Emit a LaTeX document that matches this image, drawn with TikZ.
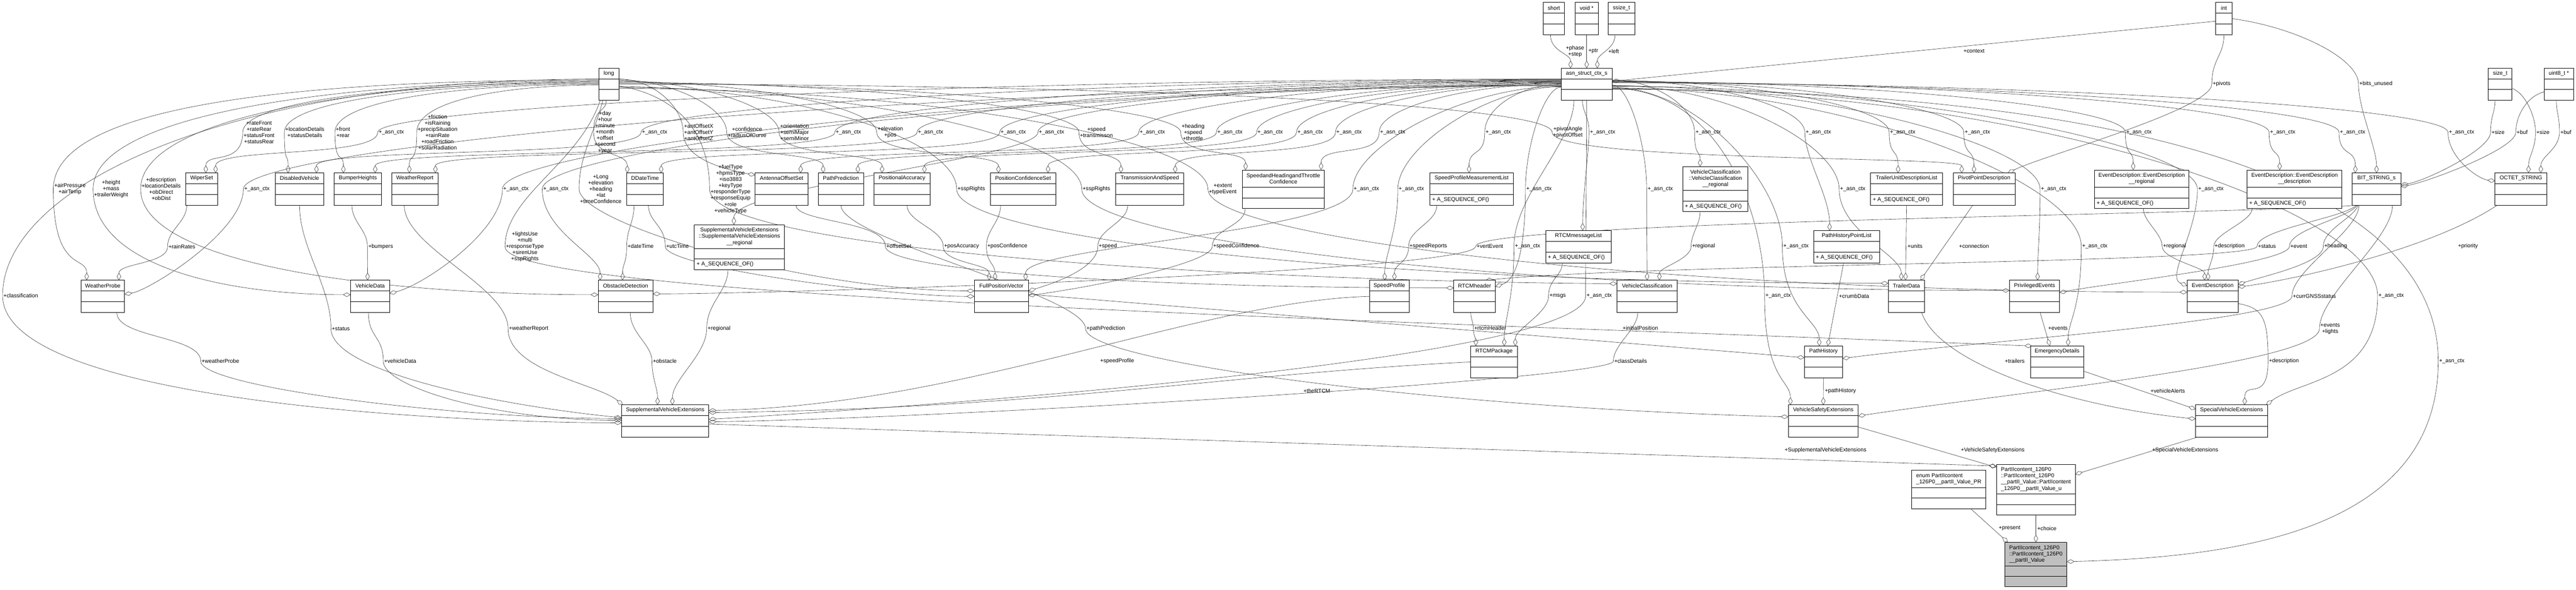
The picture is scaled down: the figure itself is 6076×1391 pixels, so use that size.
\documentclass[tikz,border=0pt]{standalone}
\usepackage{fontspec}
\setmainfont{Liberation Sans}
\usetikzlibrary{arrows.meta,calc}
\pgfdeclarelayer{back}
\pgfdeclarelayer{edges}
\pgfsetlayers{back,edges,main}
\newcommand\actx{+\_asn\_ctx}
\newcommand\umlbox[9][align=center]{%
  \node[ubase,minimum width={(#5-#3)*1pt},minimum height={(#6-#4)*1pt}] (#2) at ({(#3+#5)/2},{(#4+#6)/2}) {};
  \draw[divline] (#3,{#4+#7}) -- (#5,{#4+#7});
  \draw[divline] (#3,{#6-25}) -- (#5,{#6-25});
  \node[ttl,#1] at ({(#3+#5)/2},{#4+#7/2}) {#8};
  \node[ttl,anchor=west] at ({#3+5},{#6-12.5}) {#9};}
\newcommand\elab[3]{\node[lb] (#1) at (#2) {#3};}
\newcommand\viaedge[6]{\draw[conn] (#1) .. controls +(#2) and +(0,-#4) .. (#3.west) .. controls +(0,#4) and +(#5) .. (#6);}
\begin{document}
\begin{tikzpicture}[x=1pt,y=-1pt,
  ubase/.style={draw=black,line width=1.1pt,fill=white,inner sep=0pt,outer sep=0pt,rectangle},
  divline/.style={line width=1.1pt},
  ttl/.style={font=\fontsize{13}{14.7}\selectfont,inner sep=0pt},
  lb/.style={font=\fontsize{13}{14.7}\selectfont,align=center,inner sep=2pt},
  conn/.style={draw=black!78,line width=0.75pt,-{Diamond[open,length=18pt,width=10pt]}}]
\begin{pgfonlayer}{back}
\fill[white] (0,0) rectangle (6076,1391);
\end{pgfonlayer}
\useasboundingbox (0,0) rectangle (6076,1391);
% ---------------- boxes
\umlbox{nshort}{3640}{6}{3690}{82}{25}{short}{}
\umlbox{voidp}{3715}{6}{3770}{82}{25}{void *}{}
\umlbox{ssize}{3793}{6}{3856}{82}{25}{ssize\_t}{}
\umlbox{nint}{5226}{6}{5265}{82}{25}{int}{}
\umlbox{nlong}{1412}{161}{1460}{236}{25}{long}{}
\umlbox{asn}{3682}{161}{3803}{236}{25}{asn\_struct\_ctx\_s}{}
\umlbox{sizet}{5869}{161}{5925}{236}{25}{size\_t}{}
\umlbox{uint8}{6001}{161}{6070}{236}{25}{uint8\_t *}{}
\umlbox{wiper}{438}{408}{513}{484}{25}{WiperSet}{}
\umlbox{disabled}{649}{408}{764}{484}{25}{DisabledVehicle}{}
\umlbox{bumper}{788}{408}{900}{484}{25}{BumperHeights}{}
\umlbox{weatherrep}{924}{408}{1033}{484}{25}{WeatherReport}{}
\umlbox{ddate}{1478}{408}{1565}{484}{25}{DDateTime}{}
\umlbox{antenna}{1781}{408}{1906}{484}{25}{AntennaOffsetSet}{}
\umlbox{pathpred}{1930}{408}{2037}{484}{25}{PathPrediction}{}
\umlbox{posacc}{2061}{408}{2194}{484}{25}{PositionalAccuracy}{}
\umlbox{posconf}{2336}{408}{2490}{484}{25}{PositionConfidenceSet}{}
\umlbox{transspeed}{2632}{408}{2792}{484}{25}{TransmissionAndSpeed}{}
\umlbox{shtc}{2930}{401}{3124}{492}{41}{SpeedandHeadingandThrottle\\Confidence}{}
\umlbox{spml}{3373}{408}{3569}{484}{25}{SpeedProfileMeasurementList}{+ A\_SEQUENCE\_OF()}
\umlbox{vcreg}{3969}{393}{4123}{499}{56}{VehicleClassification\\::VehicleClassification\\\_\_regional}{+ A\_SEQUENCE\_OF()}
\umlbox{tudl}{4412}{408}{4582}{484}{25}{TrailerUnitDescriptionList}{+ A\_SEQUENCE\_OF()}
\umlbox{pivot}{4607}{408}{4753}{484}{25}{PivotPointDescription}{}
\umlbox{edreg}{4940}{401}{5163}{492}{41}{EventDescription::EventDescription\\\_\_regional}{+ A\_SEQUENCE\_OF()}
\umlbox{eddesc}{5300}{401}{5524}{492}{41}{EventDescription::EventDescription\\\_\_description}{+ A\_SEQUENCE\_OF()}
\umlbox{bitstr}{5548}{408}{5663}{484}{25}{BIT\_STRING\_s}{}
\umlbox{octet}{5885}{408}{6007}{484}{25}{OCTET\_STRING}{}
\umlbox{svereg}{1638}{530}{1850}{636}{56}{SupplementalVehicleExtensions\\::SupplementalVehicleExtensions\\\_\_regional}{+ A\_SEQUENCE\_OF()}
\umlbox{rtcmml}{3646}{544}{3800}{620}{25}{RTCMmessageList}{+ A\_SEQUENCE\_OF()}
\umlbox{phpl}{4278}{544}{4433}{620}{25}{PathHistoryPointList}{+ A\_SEQUENCE\_OF()}
\umlbox{wprobe}{191}{661}{294}{737}{25}{WeatherProbe}{}
\umlbox{vdata}{827}{661}{919}{737}{25}{VehicleData}{}
\umlbox{obst}{1411}{661}{1540}{737}{25}{ObstacleDetection}{}
\umlbox{fpv}{2298}{661}{2426}{737}{25}{FullPositionVector}{}
\umlbox{sprof}{3230}{661}{3324}{737}{25}{SpeedProfile}{}
\umlbox{rtcmh}{3429}{661}{3527}{737}{25}{RTCMheader}{}
\umlbox{vclass}{3814}{661}{3956}{737}{25}{VehicleClassification}{}
\umlbox{trailer}{4454}{661}{4539}{737}{25}{TrailerData}{}
\umlbox{priv}{4740}{661}{4858}{737}{25}{PrivilegedEvents}{}
\umlbox{evdesc}{5159}{661}{5279}{737}{25}{EventDescription}{}
\umlbox{rtcmp}{3469}{816}{3579}{891}{25}{RTCMPackage}{}
\umlbox{phist}{4256}{816}{4346}{891}{25}{PathHistory}{}
\umlbox{emerg}{4789}{816}{4915}{891}{25}{EmergencyDetails}{}
\umlbox{sve}{1466}{955}{1672}{1031}{25}{SupplementalVehicleExtensions}{}
\umlbox{vse}{4218}{955}{4383}{1031}{25}{VehicleSafetyExtensions}{}
\umlbox{spve}{5179}{955}{5348}{1031}{25}{SpecialVehicleExtensions}{}
\umlbox[align=left]{enumpr}{4509}{1109}{4684}{1200}{41}{enum PartIIcontent\\\_126P0\_\_partII\_Value\_PR}{}
\umlbox[align=left]{valu}{4709}{1096}{4895}{1215}{69}{PartIIcontent\_126P0\\::PartIIcontent\_126P0\\\_\_partII\_Value::PartIIcontent\\\_126P0\_\_partII\_Value\_u}{}
\begin{scope}[ubase/.append style={fill=black!25}]
\umlbox[align=left]{nmain}{4729}{1279}{4875}{1384}{56}{PartIIcontent\_126P0\\::PartIIcontent\_126P0\\\_\_partII\_Value}{}
\end{scope}
% ---------------- labels
\elab{lPhase}{3715,121}{+phase\\+step}
\elab{lPtr}{3758,121}{+ptr}
\elab{lLeft}{3806,121}{+left}
\elab{lContext}{4656,121}{+context}
\elab{lPivots}{5240,198}{+pivots}
\elab{lBits}{5604,198}{+bits\_unused}
\elab{a923}{923,312}{\actx}
\elab{a1544}{1544,312}{\actx}
\elab{a2001}{2001,312}{\actx}
\elab{a2195}{2195,312}{\actx}
\elab{a2390}{2390,312}{\actx}
\elab{a2480}{2480,312}{\actx}
\elab{a2718}{2718,312}{\actx}
\elab{a2901}{2901,312}{\actx}
\elab{a2996}{2996,312}{\actx}
\elab{a3090}{3090,312}{\actx}
\elab{a3182}{3182,312}{\actx}
\elab{a3285}{3285,312}{\actx}
\elab{a3534}{3534,312}{\actx}
\elab{a3780}{3780,312}{\actx}
\elab{a4029}{4029,312}{\actx}
\elab{a4289}{4289,312}{\actx}
\elab{a4488}{4488,312}{\actx}
\elab{a4664}{4664,312}{\actx}
\elab{a5045}{5045,312}{\actx}
\elab{a5384}{5384,312}{\actx}
\elab{a5549}{5549,312}{\actx}
\elab{a5806}{5806,312}{\actx}
\elab{lRate}{611,312}{+rateFront\\+rateRear\\+statusFront\\+statusRear}
\elab{lLocDet}{719,312}{+locationDetails\\+statusDetails}
\elab{lFront}{809,312}{+front\\+rear}
\elab{lFric}{1032,312}{+friction\\+isRaining\\+precipSituation\\+rainRate\\+roadFriction\\+solarRadiation}
\elab{lDay}{1427,312}{+day\\+hour\\+minute\\+month\\+offset\\+second\\+year}
\elab{lAnt}{1648,312}{+antOffsetX\\+antOffsetY\\+antOffsetZ}
\elab{lConf}{1762,312}{+confidence\\+radiusOfCurve}
\elab{lOrient}{1874,312}{+orientation\\+semiMajor\\+semiMinor}
\elab{lElevPos}{2100,312}{+elevation\\+pos}
\elab{lSpTr}{2586,312}{+speed\\+transmisson}
\elab{lHST}{2814,312}{+heading\\+speed\\+throttle}
\elab{lPivAng}{3698,312}{+pivotAngle\\+pivotOffset}
\elab{lSize1}{5892,312}{+size}
\elab{lBuf1}{5949,312}{+buf}
\elab{lSize2}{5998,312}{+size}
\elab{lBuf2}{6052,312}{+buf}
\elab{b606}{606,446}{\actx}
\elab{b1217}{1217,446}{\actx}
\elab{b1311}{1311,446}{\actx}
\elab{b3223}{3223,446}{\actx}
\elab{b3329}{3329,446}{\actx}
\elab{b3630}{3630,446}{\actx}
\elab{b3916}{3916,446}{\actx}
\elab{b4370}{4370,446}{\actx}
\elab{b4844}{4844,446}{\actx}
\elab{b5215}{5215,446}{\actx}
\elab{lAir}{165,446}{+airPressure\\+airTemp}
\elab{lHeight}{262,446}{+height\\+mass\\+trailerWeight}
\elab{lDescr}{380,446}{+description\\+locationDetails\\+obDirect\\+obDist}
\elab{lLong}{1417,446}{+Long\\+elevation\\+heading\\+lat\\+timeConfidence}
\elab{lFuel}{1723,446}{+fuelType\\+hpmsType\\+iso3883\\+keyType\\+responderType\\+responseEquip\\+role\\+vehicleType}
\elab{lSsp1}{2291,446}{+sspRights}
\elab{lSsp2}{2586,446}{+sspRights}
\elab{lExtent}{2884,446}{+extent\\+typeEvent}
\elab{lRain}{429,582}{+rainRates}
\elab{lBump}{898,582}{+bumpers}
\elab{lLights}{1238,582}{+lightsUse\\+multi\\+responseType\\+sirenUse\\+sspRights}
\elab{lDateTime}{1511,581}{+dateTime}
\elab{lUtc}{1598,581}{+utcTime}
\elab{lOffset}{2120,581}{+offsetSet}
\elab{lPosAcc}{2268,581}{+posAccuracy}
\elab{lPosConf}{2376,581}{+posConfidence}
\elab{lSpeed}{2613,581}{+speed}
\elab{lSpConf}{2916,581}{+speedConfidence}
\elab{lSpRep}{3369,581}{+speedReports}
\elab{lVert}{3514,581}{+vertEvent}
\elab{c3603}{3603,581}{\actx}
\elab{lReg1}{4018,581}{+regional}
\elab{c4236}{4236,581}{\actx}
\elab{lUnits}{4517,581}{+units}
\elab{lConn}{4656,581}{+connection}
\elab{c4941}{4941,581}{\actx}
\elab{lReg2}{5129,581}{+regional}
\elab{lDesc}{5259,581}{+description}
\elab{lStatus}{5347,581}{+status}
\elab{lEvent}{5422,581}{+event}
\elab{lHeading}{5509,581}{+heading}
\elab{lPrio}{5821,581}{+priority}
\elab{lClass}{49,697}{+classification}
\elab{lMsgs}{3674,698}{+msgs}
\elab{d3772}{3772,698}{\actx}
\elab{d4194}{4194,698}{\actx}
\elab{lCrumb}{4373,698}{+crumbData}
\elab{lGNSS}{5459,698}{+currGNSSstatus}
\elab{d5640}{5640,698}{\actx}
\elab{lStatus2}{804,775}{+status}
\elab{lWRep}{1247,775}{+weatherReport}
\elab{lReg3}{1696,775}{+regional}
\elab{lPathPred}{2608,775}{+pathPrediction}
\elab{lRtcmH}{3515,774}{+rtcmHeader}
\elab{lInit}{3869,774}{+initialPosition}
\elab{lEvents}{4854,774}{+events}
\elab{lEvLi}{5496,775}{+events\\+lights}
\elab{lWProbe}{520,852}{+weatherProbe}
\elab{lVData}{944,852}{+vehicleData}
\elab{lObst}{1568,852}{+obstacle}
\elab{lSpProf}{2635,852}{+speedProfile}
\elab{lClassDet}{3846,852}{+classDetails}
\elab{lTrailers}{4752,852}{+trailers}
\elab{lDesc2}{5387,852}{+description}
\elab{e5783}{5783,852}{\actx}
\elab{lTheRTCM}{3106,922}{+theRTCM}
\elab{lPathH}{4341,922}{+pathHistory}
\elab{lVAlerts}{5113,922}{+vehicleAlerts}
\elab{lSVE}{4306,1062}{+SupplementalVehicleExtensions}
\elab{lVSE}{4700,1062}{+VehicleSafetyExtensions}
\elab{lSpVE}{5154,1062}{+SpecialVehicleExtensions}
\elab{lPresent}{4740,1246}{+present}
\elab{lChoice}{4828,1246}{+choice}
% ---------------- connectors
\begin{pgfonlayer}{edges}
\draw[conn] ([xshift=-8pt]nshort.south) .. controls +(0,40) and +(0,-35) .. ([xshift=-38pt]asn.north);
\draw[conn] (voidp.south) -- (asn.north);
\draw[conn] ([xshift=-15pt]ssize.south) .. controls +(0,35) and +(0,-35) .. ([xshift=25pt]asn.north);
\draw[conn] ([yshift=-6pt]nint.west) -- ([yshift=7pt]asn.east);
\viaedge{nint.south}{0,50}{lPivots}{60}{80,-40}{[xshift=56pt]pivot.north}
\viaedge{nint.east}{150,20}{lBits}{60}{0,-60}{bitstr.north}
\viaedge{[xshift=-12pt]sizet.south}{0,30}{lSize1}{40}{60,-10}{[yshift=10pt]bitstr.east}
\viaedge{[yshift=-18pt]uint8.west}{-40,10}{lBuf1}{40}{60,-10}{[yshift=6pt]bitstr.east}
\viaedge{[yshift=-10pt]sizet.east}{30,10}{lSize2}{40}{0,-40}{[xshift=18pt]octet.north}
\viaedge{[xshift=-6pt]uint8.south}{0,30}{lBuf2}{40}{0,-40}{[xshift=47pt]octet.north}
% asn -> rank 3
\viaedge{[yshift=12pt]asn.west}{-1400,0}{a923}{60}{0,-60}{[xshift=33pt]wiper.north}
\viaedge{[yshift=11pt]asn.west}{-1100,0}{a1544}{60}{0,-60}{[xshift=40pt]disabled.north}
\viaedge{[yshift=10pt]asn.west}{-850,0}{a2001}{60}{0,-60}{[xshift=41pt]bumper.north}
\viaedge{[yshift=9pt]asn.west}{-750,0}{a2195}{60}{0,-60}{[xshift=-6pt]weatherrep.north east}
\viaedge{[yshift=8pt]asn.west}{-650,0}{a2390}{60}{0,-60}{[xshift=38pt]ddate.north}
\viaedge{[yshift=7pt]asn.west}{-600,0}{a2480}{60}{0,-90}{[xshift=-13pt]svereg.north}
\viaedge{[yshift=6pt]asn.west}{-500,0}{a2718}{60}{0,-60}{[xshift=45pt]antenna.north}
\viaedge{[yshift=5pt]asn.west}{-400,0}{a2901}{60}{0,-60}{[xshift=40pt]pathpred.north}
\viaedge{[yshift=4pt]asn.west}{-350,0}{a2996}{60}{0,-60}{[xshift=53pt]posacc.north}
\viaedge{[yshift=3pt]asn.west}{-300,0}{a3090}{60}{0,-60}{[xshift=59pt]posconf.north}
\viaedge{[yshift=2pt]asn.west}{-260,0}{a3182}{60}{0,-60}{[xshift=60pt]transspeed.north}
\viaedge{[yshift=1pt]asn.west}{-210,0}{a3285}{60}{0,-60}{[xshift=-8pt]shtc.north east}
\viaedge{asn.west}{-90,0}{a3534}{60}{0,-60}{[xshift=-6pt]spml.north}
\viaedge{[xshift=-10pt]asn.south}{0,30}{a3780}{40}{0,-80}{[xshift=10pt]rtcmml.north}
\viaedge{[yshift=10pt]asn.east}{100,0}{a4029}{60}{0,-40}{[xshift=-36pt]vcreg.north}
\viaedge{[yshift=9pt]asn.east}{230,0}{a4289}{60}{0,-80}{[xshift=-40pt]phpl.north}
\viaedge{[yshift=8pt]asn.east}{330,0}{a4488}{60}{0,-60}{[xshift=-20pt]tudl.north}
\viaedge{[yshift=7pt]asn.east}{420,0}{a4664}{60}{0,-60}{[xshift=-24pt]pivot.north}
\viaedge{[yshift=6pt]asn.east}{600,0}{a5045}{60}{0,-50}{[xshift=-20pt]edreg.north}
\viaedge{[yshift=5pt]asn.east}{780,0}{a5384}{60}{0,-50}{[xshift=-35pt]eddesc.north}
\viaedge{[yshift=4pt]asn.east}{860,0}{a5549}{60}{0,-60}{[xshift=-50pt]bitstr.north}
\viaedge{[yshift=3pt]asn.east}{990,0}{a5806}{60}{-40,-5}{[yshift=19pt]octet.west}
% asn -> rank 4
\viaedge{[yshift=-2pt]asn.west}{-1500,0}{b606}{100}{60,-10}{[yshift=5pt]wprobe.east}
\viaedge{[yshift=-3pt]asn.west}{-1200,0}{b1217}{100}{80,-20}{[yshift=7pt]vdata.east}
\viaedge{[yshift=-4pt]asn.west}{-1150,0}{b1311}{100}{0,-60}{[xshift=-60pt]obst.north}
\viaedge{[yshift=-5pt]asn.west}{-230,0}{b3223}{100}{0,-80}{[xshift=57pt]fpv.north}
\viaedge{[yshift=-6pt]asn.west}{-170,0}{b3329}{100}{0,-60}{[xshift=-11pt]sprof.north}
\viaedge{[yshift=-7pt]asn.west}{-40,0}{b3630}{100}{60,-20}{[yshift=23pt]rtcmh.east}
\viaedge{[yshift=-2pt]asn.east}{40,0}{b3916}{100}{0,-60}{vclass.north}
\viaedge{[yshift=-3pt]asn.east}{280,0}{b4370}{100}{0,-60}{[xshift=-12pt]trailer.north}
\viaedge{[yshift=-4pt]asn.east}{500,0}{b4844}{100}{0,-60}{[xshift=7pt]priv.north}
\viaedge{[yshift=-5pt]asn.east}{700,0}{b5215}{100}{-50,-20}{[yshift=25pt]evdesc.west}
% asn -> lower ranks
\viaedge{[xshift=-30pt]asn.south}{0,100}{c3603}{120}{0,-60}{[xshift=24pt]rtcmp.north}
\viaedge{[yshift=-8pt]asn.east}{200,0}{c4236}{150}{0,-60}{[xshift=-10pt]phist.north}
\viaedge{[yshift=-9pt]asn.east}{550,0}{c4941}{150}{0,-60}{[xshift=26pt]emerg.north}
\viaedge{asn.south}{0,150}{d3772}{150}{500,-30}{[yshift=4pt]sve.east}
\viaedge{[yshift=-10pt]asn.east}{250,0}{d4194}{200}{0,-60}{[xshift=5pt]vse.north west}
\viaedge{[yshift=-11pt]asn.east}{1000,0}{d5640}{200}{80,-60}{[xshift=-3pt]spve.north east}
\viaedge{[yshift=-12pt]asn.east}{1300,0}{e5783}{400}{400,-10}{[yshift=7pt]nmain.east}
% long -> ...
\viaedge{[yshift=12pt]nlong.west}{-900,0}{lClass}{250}{-400,0}{[yshift=-4pt]sve.west}
\viaedge{[yshift=10pt]nlong.west}{-700,0}{lAir}{200}{0,-60}{[xshift=-38pt]wprobe.north}
\viaedge{[yshift=8pt]nlong.west}{-600,0}{lHeight}{180}{-300,0}{[yshift=4pt]vdata.west}
\viaedge{[yshift=6pt]nlong.west}{-500,0}{lDescr}{180}{-500,0}{[yshift=4pt]obst.west}
\viaedge{[yshift=4pt]nlong.west}{-400,0}{lRate}{80}{0,-50}{[xshift=10pt]wiper.north}
\viaedge{[yshift=2pt]nlong.west}{-350,0}{lLocDet}{80}{0,-50}{[xshift=-27pt]disabled.north}
\viaedge{nlong.west}{-300,0}{lFront}{80}{0,-50}{[xshift=-34pt]bumper.north}
\viaedge{[yshift=-2pt]nlong.west}{-200,0}{lFric}{80}{0,-50}{[xshift=-13pt]weatherrep.north}
\viaedge{[xshift=-6pt]nlong.south}{0,30}{lDay}{60}{0,-50}{[xshift=-42pt]ddate.north}
\viaedge{[xshift=-14pt]nlong.south}{-20,80}{lLong}{80}{-400,0}{[yshift=13pt]fpv.west}
\viaedge{[xshift=-20pt]nlong.south}{-50,150}{lLights}{120}{-1500,-60}{[xshift=4pt]emerg.north west}
\viaedge{[yshift=12pt]nlong.east}{80,0}{lAnt}{60}{-80,-15}{[yshift=-5pt]antenna.north west}
\viaedge{[yshift=10pt]nlong.east}{120,0}{lConf}{60}{0,-50}{[xshift=-42pt]pathpred.north}
\viaedge{[yshift=8pt]nlong.east}{180,0}{lOrient}{60}{0,-50}{[xshift=-47pt]posacc.north}
\viaedge{[yshift=6pt]nlong.east}{300,0}{lElevPos}{60}{0,-50}{[xshift=-58pt]posconf.north}
\viaedge{[yshift=4pt]nlong.east}{550,0}{lSpTr}{60}{0,-50}{[xshift=-68pt]transspeed.north}
\viaedge{[yshift=2pt]nlong.east}{650,0}{lHST}{60}{0,-50}{[xshift=8pt]shtc.north west}
\viaedge{nlong.east}{1100,0}{lPivAng}{70}{0,-40}{[xshift=-53pt]pivot.north}
\viaedge{[yshift=-4pt]nlong.east}{120,20}{lFuel}{150}{-800,-5}{[yshift=-8pt]vclass.north west}
\viaedge{[yshift=-6pt]nlong.east}{400,0}{lSsp1}{120}{-1200,0}{[yshift=-7pt]trailer.north west}
\viaedge{[yshift=-8pt]nlong.east}{550,0}{lSsp2}{120}{-1200,0}{[yshift=14pt]priv.west}
\viaedge{[yshift=-10pt]nlong.east}{700,0}{lExtent}{120}{-1200,0}{[yshift=10pt]evdesc.west}
% members between structures
\viaedge{[xshift=-35pt]wiper.south}{0,40}{lRain}{40}{0,-40}{[xshift=38pt]wprobe.north}
\viaedge{[xshift=-14pt]bumper.south}{0,40}{lBump}{40}{0,-40}{[xshift=-6pt]vdata.north}
\viaedge{disabled.south}{0,100}{lStatus2}{100}{-300,-30}{[yshift=8pt]sve.west}
\viaedge{[xshift=-25pt]weatherrep.south}{0,100}{lWRep}{100}{-60,-50}{[xshift=3pt]sve.north west}
\viaedge{[xshift=33pt]wprobe.south}{0,60}{lWProbe}{60}{-400,0}{[yshift=6pt]sve.west}
\viaedge{[xshift=-4pt]vdata.south}{0,60}{lVData}{60}{-300,0}{[yshift=2pt]sve.west}
\viaedge{[xshift=11pt]obst.south}{0,50}{lObst}{40}{0,-40}{[xshift=-18pt]sve.north}
\viaedge{[xshift=-27pt]svereg.south}{0,50}{lReg3}{60}{0,-60}{[xshift=17pt]sve.north}
\viaedge{[xshift=-26pt]ddate.south}{0,40}{lDateTime}{40}{0,-40}{[xshift=-7pt]obst.north}
\viaedge{[xshift=8pt]ddate.south}{0,40}{lUtc}{50}{-200,0}{fpv.west}
\viaedge{[xshift=34pt]antenna.south}{0,40}{lOffset}{60}{-700,0}{[yshift=20pt]rtcmh.west}
\viaedge{pathpred.south}{0,80}{lPathPred}{80}{-800,-20}{[yshift=10pt]vse.west}
\viaedge{[xshift=12pt]posacc.south}{0,40}{lPosAcc}{40}{0,-40}{[xshift=-29pt]fpv.north}
\viaedge{[xshift=-53pt]posconf.south}{0,40}{lPosConf}{40}{0,-40}{[xshift=-15pt]fpv.north}
\viaedge{[xshift=-52pt]transspeed.south}{0,40}{lSpeed}{40}{100,-30}{[yshift=13pt]fpv.east}
\viaedge{[xshift=7pt]shtc.south west}{0,40}{lSpConf}{40}{150,-20}{[yshift=2pt]fpv.east}
\viaedge{[xshift=-82pt]spml.south}{0,40}{lSpRep}{40}{0,-40}{[xshift=12pt]sprof.north}
\viaedge{[xshift=-38pt]rtcmml.south}{0,30}{lMsgs}{40}{0,-40}{[xshift=50pt]rtcmp.north}
\viaedge{[xshift=-9pt]rtcmh.south}{0,15}{lRtcmH}{15}{0,-15}{[xshift=-43pt]rtcmp.north}
\viaedge{[xshift=-36pt]vcreg.south}{0,30}{lReg1}{30}{0,-30}{[xshift=29pt]vclass.north}
\viaedge{[xshift=-22pt]vclass.south}{0,40}{lClassDet}{40}{600,-10}{[yshift=-2pt]sve.east}
\draw[conn] (rtcmp.west) .. controls +(-600,30) and +(800,-10) .. ([yshift=20pt]sve.east);
\draw[conn] (sprof.west) .. controls +(-400,10) and +(600,-10) .. ([yshift=25pt]sve.east);
\draw[conn] ([yshift=5pt]fpv.east) -- ([yshift=10pt]phist.west);
\draw[conn] ([xshift=-7pt]phpl.south) -- ([xshift=10pt]phist.north);
\draw[conn] (phist.south) -- (vse.north);
\draw[conn] (tudl.south) -- ([xshift=-2pt]trailer.north);
\draw[conn] ([xshift=-27pt]pivot.south) -- ([xshift=33pt]trailer.north);
\viaedge{[xshift=4pt]edreg.south}{0,30}{lReg2}{30}{0,-30}{[xshift=-19pt]evdesc.north}
\viaedge{[xshift=-100pt]eddesc.south}{0,30}{lDesc}{30}{0,-30}{[xshift=-11pt]evdesc.north}
\viaedge{[xshift=12pt]bitstr.south west}{-20,30}{lEvent}{40}{100,-20}{[yshift=9pt]priv.east}
\viaedge{[xshift=14pt]bitstr.south west}{-10,30}{lHeading}{40}{60,-20}{[yshift=28pt]evdesc.east}
\viaedge{[xshift=10pt]bitstr.south west}{-30,30}{lStatus}{40}{400,-40}{[xshift=26pt]rtcmh.north}
\viaedge{[xshift=8pt]bitstr.south west}{-200,20}{lVert}{60}{300,0}{[yshift=6pt]obst.east}
\viaedge{[xshift=16pt]bitstr.south west}{0,60}{lGNSS}{60}{300,-40}{[yshift=8pt]phist.east}
\viaedge{[xshift=-20pt]bitstr.south east}{0,80}{lEvLi}{80}{400,-60}{[yshift=12pt]vse.east}
\draw[conn] ([xshift=5pt]octet.south west) .. controls +(-150,100) and +(150,-20) .. ([yshift=22pt]evdesc.east);
\draw[conn] ([xshift=13pt]priv.south) -- ([xshift=-17pt]emerg.north);
\draw[conn] ([xshift=36pt]trailer.south) .. controls +(40,120) and +(-300,-30) .. ([yshift=5pt]spve.west);
\viaedge{[yshift=-17pt]evdesc.east}{60,10}{lDesc2}{100}{0,-60}{[xshift=31pt]spve.north}
\draw[conn] ([yshift=-22pt]emerg.east) -- ([yshift=28pt]spve.west);
\draw[conn] ([yshift=-7pt]sve.east) -- ([yshift=-3pt]valu.north west);
\draw[conn] ([yshift=-14pt]vse.east) -- ([yshift=-6pt]valu.north west);
\draw[conn] ([xshift=4pt]spve.south west) -- ([yshift=37pt]valu.east);
\draw[conn] ([xshift=52pt]enumpr.south) -- ([xshift=-66pt]nmain.north);
\draw[conn] (valu.south) -- (nmain.north);
\end{pgfonlayer}
\end{tikzpicture}
\end{document}
